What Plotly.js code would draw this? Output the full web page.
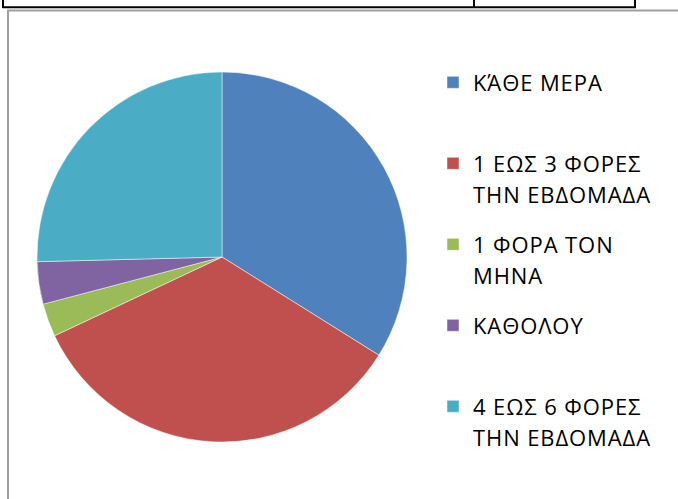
<!DOCTYPE html>
<html>
<head>
<meta charset="utf-8">
<script src="https://cdn.plot.ly/plotly-3.0.1.min.js"></script>
<style>html,body{margin:0;padding:0;background:#fff;}#chart{width:678px;height:499px;}</style>
</head>
<body>
<div id="chart"></div>
<script>
// Data
const categories = [
  'ΚΆΘΕ ΜΕΡΑ',
  '1 ΕΩΣ 3 ΦΟΡΕΣ<br>ΤΗΝ ΕΒΔΟΜΑΔΑ',
  '1 ΦΟΡΑ ΤΟΝ<br>ΜΗΝΑ',
  'ΚΑΘΟΛΟΥ',
  '4 ΕΩΣ 6 ΦΟΡΕΣ<br>ΤΗΝ ΕΒΔΟΜΑΔΑ'
];
const values = [33.9, 34.1, 2.9, 3.7, 25.4];
const colors = ['#4F81BD', '#C0504D', '#9BBB59', '#8064A2', '#4BACC6'];

// Legend entries: larger glyphs on a tighter base line grid, so that each
// entry fills an equal slot and wrapped lines sit ~33px apart (as in the original)
const SPAN = '<span style="font-size:22px;letter-spacing:0.9px;baseline-shift:-4px">';
const legendLabels = categories.map(c => {
  const lines = c.split('<br>').map(l => SPAN + l + '</span>');
  const out = [];
  lines.forEach((l, i) => { if (i > 0) out.push('\u00a0'); out.push(l); });
  while (out.length < 5) out.push('\u00a0');
  return out.join('<br>');
});

const W = 678, H = 499;
const px = x => x / W;
const py = y => 1 - y / H;

const trace = {
  type: 'pie',
  labels: legendLabels,
  values: values,
  sort: false,
  direction: 'clockwise',
  rotation: 0,
  textinfo: 'none',
  hoverinfo: 'percent',
  marker: {colors: colors, line: {color: 'rgba(255,255,255,0.6)', width: 0.8}},
  domain: {x: [px(37), px(407)], y: [py(442), py(72)]}
};

const black = {color: '#000', width: 2};
const grey = {color: '#a0a0a0', width: 2};
const shapes = [
  {type: 'line', xref: 'paper', yref: 'paper', x0: px(2.5), x1: px(636), y0: py(7.3), y1: py(7.3), line: black},
  {type: 'line', xref: 'paper', yref: 'paper', x0: px(3), x1: px(3), y0: py(0), y1: py(8), line: black},
  {type: 'line', xref: 'paper', yref: 'paper', x0: px(474), x1: px(474), y0: py(0), y1: py(7), line: black},
  {type: 'line', xref: 'paper', yref: 'paper', x0: px(635), x1: px(635), y0: py(0), y1: py(8), line: black},
  {type: 'line', xref: 'paper', yref: 'paper', x0: px(7), x1: px(678), y0: py(10.5), y1: py(10.5), line: grey},
  {type: 'line', xref: 'paper', yref: 'paper', x0: px(8), x1: px(8), y0: py(10), y1: py(499), line: grey}
];

const layout = {
  width: W, height: H,
  margin: {l: 0, r: 0, t: 0, b: 0, pad: 0},
  paper_bgcolor: '#fff',
  showlegend: true,
  legend: {
    x: px(433), y: py(68), xanchor: 'left', yanchor: 'top',
    valign: 'top',
    font: {family: 'Open Sans, Noto Sans, sans-serif', size: 12, color: '#000'},
    bgcolor: 'rgba(0,0,0,0)', borderwidth: 0
  },
  shapes: shapes
};

Plotly.newPlot('chart', [trace], layout, {displayModeBar: false, staticPlot: true});
</script>
</body>
</html>
